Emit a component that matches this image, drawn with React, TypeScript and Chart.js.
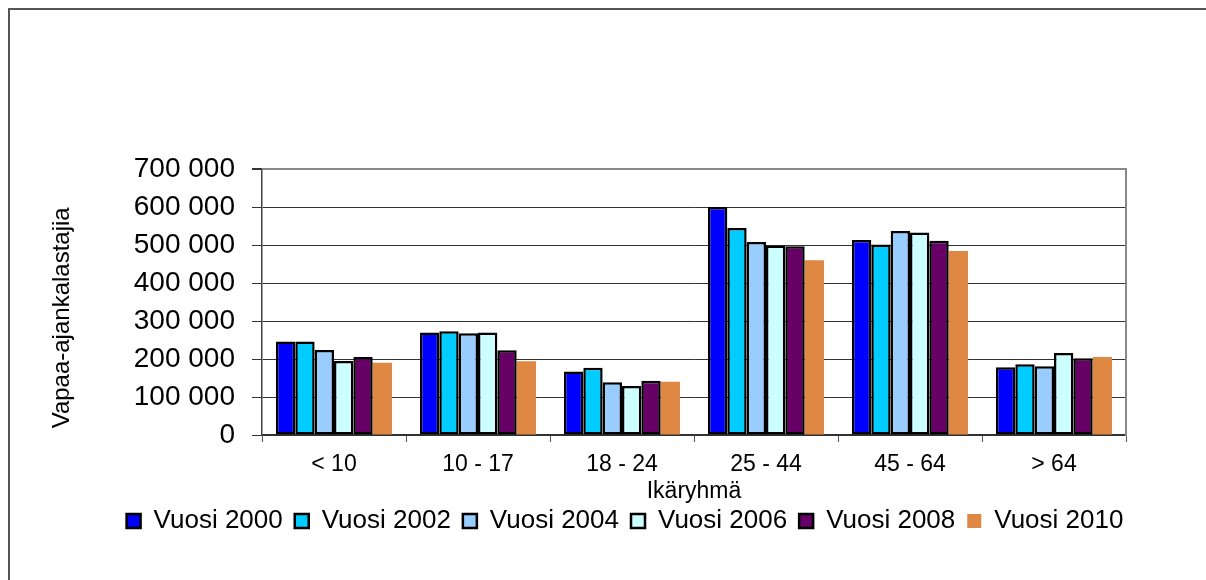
import React, { useEffect, useRef } from "react";
import { Chart, registerables } from "chart.js";

Chart.register(...registerables);

const categories = ["< 10", "10 - 17", "18 - 24", "25 - 44", "45 - 64", "> 64"];
const seriesNames = ["Vuosi 2000", "Vuosi 2002", "Vuosi 2004", "Vuosi 2006", "Vuosi 2008", "Vuosi 2010"];
const vuosi2000 = [246000, 270000, 167000, 600000, 513000, 178000];
const vuosi2002 = [246000, 273000, 177000, 545000, 501000, 186000];
const vuosi2004 = [224000, 268000, 139000, 508000, 537000, 181000];
const vuosi2006 = [195000, 270000, 129000, 499000, 533000, 216000];
const vuosi2008 = [205000, 223000, 143000, 497000, 511000, 202000];
const vuosi2010 = [190000, 194000, 140000, 460000, 484000, 205000];
const yTickLabels = ["0", "100 000", "200 000", "300 000", "400 000", "500 000", "600 000", "700 000"];
const seriesColors = ["#0000FF", "#00CCFF", "#99CCFF", "#CCFFFF", "#660066", "#DE8844"];

const FONT = "'Liberation Sans', Arial, sans-serif";

export default function App() {
  const ref = useRef<HTMLCanvasElement | null>(null);

  useEffect(() => {
    if (!ref.current) return;
    const values = [vuosi2000, vuosi2002, vuosi2004, vuosi2006, vuosi2008, vuosi2010];
    const chart = new Chart(ref.current, {
      type: "bar",
      data: {
        labels: categories,
        datasets: values.map((v, i) => ({
          label: seriesNames[i],
          data: v,
          backgroundColor: seriesColors[i],
          borderColor: "#000000",
          borderWidth: i === 5 ? 0 : 2.5,
          borderSkipped: false as any,
          barPercentage: 1,
          categoryPercentage: 0.806,
        })),
      },
      options: {
        animation: false,
        responsive: false,
        devicePixelRatio: 1,
        layout: { padding: { top: 159, right: 51, bottom: 36, left: 85 } },
        plugins: {
          tooltip: { enabled: false },
          legend: {
            position: "bottom",
            labels: {
              font: { family: FONT, size: 26 },
              color: "#000000",
              boxWidth: 14,
              boxHeight: 14,
              padding: 12,
            },
          },
        },
        scales: {
          x: {
            grid: {
              offset: true,
              drawOnChartArea: false,
              drawTicks: true,
              tickLength: 7,
              color: "#555555",
            },
            border: { color: "#333333", width: 1.5 },
            ticks: {
              font: { family: FONT, size: 23 },
              color: "#000000",
              padding: 9,
              maxRotation: 0,
              autoSkip: false,
            },
            title: {
              display: true,
              text: "Ikäryhmä",
              font: { family: FONT, size: 23 },
              color: "#000000",
              padding: { top: 0, bottom: -9 },
            },
            afterFit: (scale: any) => {
              scale.height = 61;
            },
          },
          y: {
            min: 0,
            max: 700000,
            ticks: {
              stepSize: 100000,
              autoSkip: false,
              font: { family: FONT, size: 28 },
              color: "#000000",
              padding: 17,
              callback: (_v: any, i: number) => yTickLabels[i],
            },
            grid: {
              color: (ctx: any) => (ctx.index === 7 ? "#888888" : "#333333"),
              lineWidth: (ctx: any) => (ctx.index === 7 ? 2 : 1),
              tickColor: "#333333",
              tickLength: 10,
            },
            border: { color: "#444444", width: 1.5 },
            title: {
              display: true,
              text: " Vapaa-ajankalastajia",
              align: "start",
              font: { family: FONT, size: 24 },
              color: "#000000",
              padding: { top: -47, bottom: 0 },
            },
            afterFit: (scale: any) => {
              scale.width = 167;
            },
          },
          yRight: {
            position: "right",
            min: 0,
            max: 700000,
            ticks: { display: false },
            grid: { drawOnChartArea: false, drawTicks: false },
            border: { color: "#888888", width: 2 },
            afterFit: (scale: any) => {
              scale.width = 29;
            },
          },
        },
      },
    });
    return () => chart.destroy();
  }, []);

  return (
    <div
      style={{
        position: "fixed",
        left: 8,
        top: 8,
        width: 1198,
        height: 572,
        boxSizing: "border-box",
        borderLeft: "2px solid #555555",
        borderTop: "2px solid #555555",
        background: "#ffffff",
      }}
    >
      <canvas ref={ref} width={1196} height={570} style={{ display: "block" }} />
    </div>
  );
}
